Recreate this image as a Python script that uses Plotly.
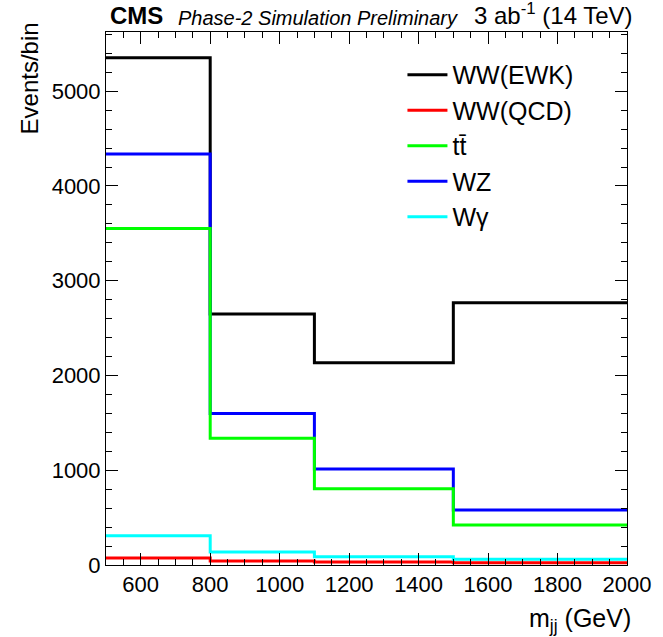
import plotly.graph_objects as go

# bin edges in m_jj (GeV)
bin_edges = [500, 800, 1100, 1500, 2000]

ww_ewk = [5352, 2650, 2134, 2768]
ww_qcd = [74, 42, 32, 25]
ttbar = [3550, 1338, 806, 423]
wz = [4338, 1599, 1014, 581]
wgamma = [310, 137, 88, 60]

FONT = "Liberation Sans, Arial, sans-serif"


def step(vals):
    # repeat the last bin so the 'hv' step reaches the upper edge
    return list(vals) + [vals[-1]]


fig = go.Figure()

# drawing order: later traces sit on top
series = [
    ("WW(EWK)", ww_ewk, "#000000", 1),
    ("WW(QCD)", ww_qcd, "#ff0000", 2),
    ("WZ", wz, "#0000ff", 4),
    ("tt\u0304", ttbar, "#00ff00", 3),
    ("W\u03b3", wgamma, "#00ffff", 5),
]
for name, vals, color, rank in series:
    fig.add_trace(go.Scatter(
        x=bin_edges, y=step(vals), mode="lines", name=name,
        line=dict(color=color, width=3, shape="hv"),
        legendrank=rank,
    ))

axis_common = dict(
    showline=True, linecolor="black", linewidth=1, mirror="allticks",
    ticks="inside", tickcolor="black", showgrid=False, zeroline=False,
    tickfont=dict(family=FONT, size=22, color="black"),
)
fig.update_xaxes(range=[500, 2000], dtick=200, tick0=0, ticklen=12,
                 minor=dict(dtick=50, ticks="inside", ticklen=6, tickcolor="black"),
                 **axis_common)
fig.update_yaxes(range=[0, 5625], dtick=1000, ticklen=12,
                 minor=dict(dtick=200, ticks="inside", ticklen=6, tickcolor="black"),
                 **axis_common)

fig.update_layout(
    width=663, height=637,
    margin=dict(l=106, r=27, t=32, b=72),
    plot_bgcolor="white", paper_bgcolor="white",
    font=dict(family=FONT, color="black"),
    showlegend=True,
    legend=dict(x=0.569, y=0.9625, xanchor="left", yanchor="top",
                font=dict(family=FONT, size=25), bgcolor="rgba(0,0,0,0)",
                itemwidth=40, tracegroupgap=0),
    annotations=[
        dict(text="<b>CMS</b>", xref="paper", yref="paper", x=0.004, y=1.0,
             xanchor="left", yanchor="bottom", showarrow=False,
             font=dict(family=FONT, size=24), yshift=1),
        dict(text="<i>Phase-2 Simulation Preliminary</i>", xref="paper", yref="paper",
             x=0.135, y=1.0, xanchor="left", yanchor="bottom", showarrow=False,
             font=dict(family=FONT, size=20), yshift=1),
        dict(text="3 ab<sup>-1</sup> (14 TeV)", xref="paper", yref="paper",
             x=1.0, y=1.0, xanchor="right", yanchor="bottom", showarrow=False,
             font=dict(family=FONT, size=24), yshift=1, xshift=8),
        dict(text="m<sub>jj</sub> (GeV)", xref="paper", yref="paper",
             x=1.0, y=-0.103, xanchor="right", yanchor="middle", showarrow=False,
             font=dict(family=FONT, size=25), xshift=6),
        dict(text="Events/bin", xref="paper", yref="paper", textangle=-90,
             x=-0.147, y=1.0225, xanchor="center", yanchor="top", showarrow=False,
             font=dict(family=FONT, size=24)),
    ],
)

# drop the browser's default body margin so the figure fills the window
fig.write_html("out.html", config={"displayModeBar": False},
               post_script="document.body.style.margin = '0';")
